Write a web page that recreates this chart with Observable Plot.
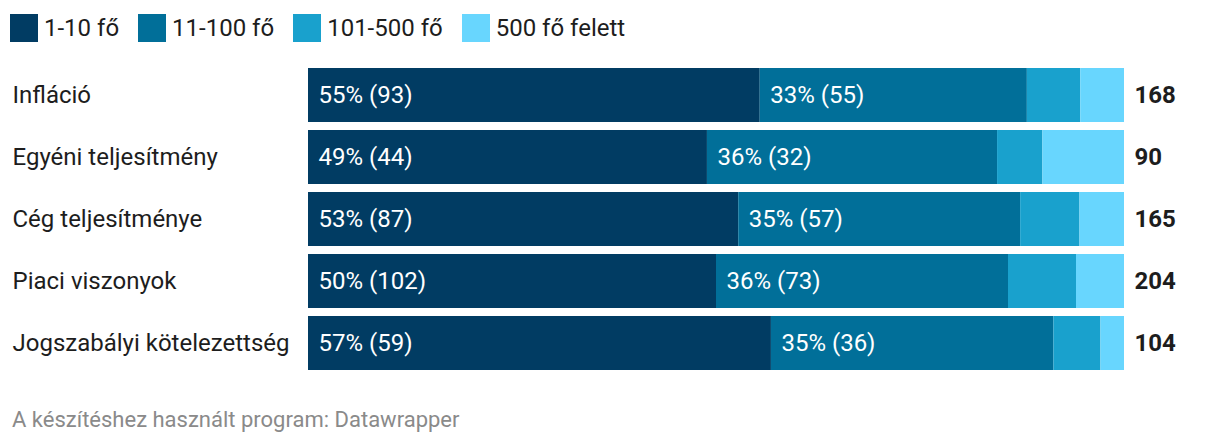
<!DOCTYPE html>
<html>
<head>
<meta charset="utf-8">
<script src="https://cdn.jsdelivr.net/npm/d3@7"></script>
<script src="https://cdn.jsdelivr.net/npm/@observablehq/plot@0.6"></script>
<style>
  body { margin: 0; background: #fff; font-family: Roboto, "Noto Sans", sans-serif; }
  #legend { height: 56px; display: flex; align-items: flex-start; padding-left: 10px; box-sizing: border-box; }
  .item { display: flex; align-items: center; margin-top: 14px; margin-right: 19px; font-size: 24px; line-height: 28px; color: #1d1d1d; }
  .sw { width: 28px; height: 28px; margin-right: 6px; }
  #caption { padding: 26px 0 0 12px; font-size: 22px; line-height: 28px; color: #8a8a8a; }
  svg { display: block; }
</style>
</head>
<body>
<div id="legend"></div>
<div id="chart"></div>
<div id="caption">A készítéshez használt program: Datawrapper</div>
<script>
const categories = ["Infláció", "Egyéni teljesítmény", "Cég teljesítménye", "Piaci viszonyok", "Jogszabályi kötelezettség"];
const groups = ["1-10 fő", "11-100 fő", "101-500 fő", "500 fő felett"];
const colors = ["#013c63", "#016f99", "#19a1cd", "#68d6fe"];
const s1_10 = [93, 44, 87, 102, 59];
const s11_100 = [55, 32, 57, 73, 36];
const s101_500 = [11, 5, 12, 17, 6];
const s500plus = [9, 9, 9, 12, 3];
const totals = [168, 90, 165, 204, 104];

const series = [s1_10, s11_100, s101_500, s500plus];
const data = [];
categories.forEach((c, i) => {
  groups.forEach((g, j) => {
    data.push({cat: c, group: g, gi: j, value: series[j][i], total: totals[i]});
  });
});

// legend
const legend = d3.select("#legend");
groups.forEach((g, j) => {
  const it = legend.append("div").attr("class", "item");
  it.append("div").attr("class", "sw").style("background", colors[j]);
  it.append("span").text(g);
});

const labelText = d => d.gi < 2 ? `${Math.round(d.value / d.total * 100)}% (${d.value})` : "";

const chart = Plot.plot({
  width: 1220,
  height: 324,
  marginLeft: 308,
  marginRight: 96,
  marginTop: 0,
  marginBottom: 0,
  style: {fontFamily: "Roboto, 'Noto Sans', sans-serif", overflow: "visible"},
  x: {domain: [0, 1], axis: null},
  y: {domain: categories, range: [7, 318], padding: 0, axis: null},
  color: {domain: groups, range: colors},
  marks: [
    Plot.barX(data, Plot.stackX({
      x: "value", y: "cat", fill: "group", offset: "normalize", order: groups,
      insetTop: 4, insetBottom: 4
    })),
    Plot.text(data, Plot.stackX1({
      x: "value", y: "cat", z: "group", offset: "normalize", order: groups,
      text: labelText, textAnchor: "start", dx: 10, fill: "white", fontSize: 24,
      ariaLabel: "seglabel"
    })),
    Plot.text(categories, {
      y: d => d, text: d => d, frameAnchor: "left", textAnchor: "start", dx: -296,
      fontSize: 24, fill: "#1d1d1d"
    }),
    Plot.text(categories, {
      y: d => d, text: (d, i) => String(totals[i]), frameAnchor: "right", textAnchor: "start", dx: 10,
      fontSize: 24, fontWeight: "bold", fill: "#1d1d1d"
    })
  ]
});
document.getElementById("chart").appendChild(chart);

// split labels into percent (white) and count (lighter)
d3.select(chart).selectAll('g[aria-label="seglabel"] text').each(function() {
  const t = d3.select(this);
  const s = t.text();
  if (!s) return;
  const k = s.indexOf(" ");
  t.text(null);
  t.append("tspan").text(s.slice(0, k));
  t.append("tspan").attr("fill", "rgba(255,255,255,0.6)").text(s.slice(k));
});
</script>
</body>
</html>
